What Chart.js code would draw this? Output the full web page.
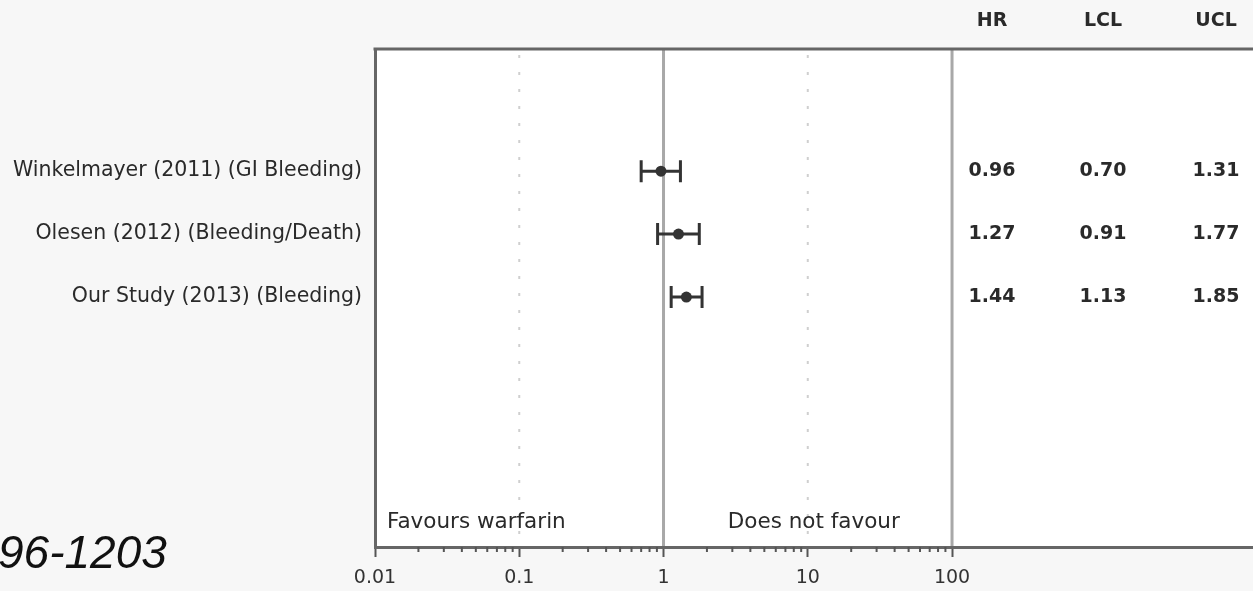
<!DOCTYPE html>
<html>
<head>
<meta charset="utf-8">
<script src="https://cdn.jsdelivr.net/npm/chart.js@4.4.1/dist/chart.umd.min.js"></script>
<style>
  html, body { margin: 0; padding: 0; background: #f7f7f7; }
  #wrap { width: 1253px; height: 591px; }
</style>
</head>
<body>
<div id="wrap"><canvas id="chart" width="1253" height="591"></canvas></div>
<script>
// forest plot data
const studies = ["Winkelmayer (2011) (GI Bleeding)", "Olesen (2012) (Bleeding/Death)", "Our Study (2013) (Bleeding)"]
const hr = [0.96, 1.27, 1.44]
const lcl = [0.70, 0.91, 1.13]
const ucl = [1.31, 1.77, 1.85]
const columns = ["HR", "LCL", "UCL"]
const xTicks = [0.01, 0.1, 1, 10, 100]
const xTickLabels = ["0.01", "0.1", "1", "10", "100"]
const solidRefs = [1, 100]
const dottedRefs = [0.1, 10]

const FONT = "'DejaVu Sans', sans-serif"
const INK = "#2a2a2a"

const forest = {
  id: "forest",
  beforeDraw(chart) {
    const { ctx, chartArea: a, scales: { x } } = chart
    ctx.save()
    ctx.fillStyle = "#f7f7f7"
    ctx.fillRect(0, 0, chart.width, chart.height)
    ctx.fillStyle = "#ffffff"
    ctx.fillRect(a.left, a.top, chart.width - a.left, a.bottom - a.top)

    // reference lines
    ctx.strokeStyle = "#a8a8a8"
    ctx.lineWidth = 3
    solidRefs.forEach(v => {
      const px = x.getPixelForValue(v)
      ctx.beginPath(); ctx.moveTo(px, a.top); ctx.lineTo(px, a.bottom); ctx.stroke()
    })
    ctx.strokeStyle = "#cfcfcf"
    ctx.lineWidth = 2
    ctx.setLineDash([3, 14])
    dottedRefs.forEach(v => {
      const px = x.getPixelForValue(v)
      ctx.beginPath(); ctx.moveTo(px, a.top + 6); ctx.lineTo(px, a.bottom); ctx.stroke()
    })
    ctx.restore()
  },
  beforeDatasetsDraw(chart) {
    const { ctx, scales: { x, y } } = chart
    ctx.save()
    ctx.strokeStyle = "#333"
    ctx.lineWidth = 3
    studies.forEach((_, i) => {
      const py = y.getPixelForValue(i + 1)
      const x1 = x.getPixelForValue(lcl[i])
      const x2 = x.getPixelForValue(ucl[i])
      ctx.beginPath()
      ctx.moveTo(x1, py); ctx.lineTo(x2, py)
      ctx.moveTo(x1, py - 11); ctx.lineTo(x1, py + 11)
      ctx.moveTo(x2, py - 11); ctx.lineTo(x2, py + 11)
      ctx.stroke()
    })
    ctx.restore()
  },
  afterDraw(chart) {
    const { ctx, chartArea: a, scales: { x, y } } = chart
    ctx.save()

    // top frame line
    ctx.strokeStyle = "#666"
    ctx.lineWidth = 3
    ctx.beginPath(); ctx.moveTo(a.left - 1.5, a.top); ctx.lineTo(chart.width, a.top); ctx.stroke()

    // minor log ticks
    ctx.strokeStyle = "#555"
    ctx.lineWidth = 2
    xTicks.slice(0, -1).forEach(d => {
      for (let k = 2; k < 10; k++) {
        const px = x.getPixelForValue(d * k)
        ctx.beginPath(); ctx.moveTo(px, a.bottom); ctx.lineTo(px, a.bottom + 5); ctx.stroke()
      }
    })

    // HR / LCL / UCL table
    const colX = [992, 1103, 1216]
    ctx.fillStyle = INK
    ctx.textAlign = "center"
    ctx.textBaseline = "middle"
    ctx.font = `bold 19px ${FONT}`
    columns.forEach((c, j) => ctx.fillText(c, colX[j], 21))
    studies.forEach((_, i) => {
      const py = y.getPixelForValue(i + 1)
      ;[hr[i], lcl[i], ucl[i]].forEach((v, j) => ctx.fillText(v.toFixed(2), colX[j], py))
    })

    // direction labels
    ctx.font = `21.5px ${FONT}`
    ctx.textAlign = "left"
    ctx.fillText("Favours warfarin", a.left + 12, 522)
    ctx.textAlign = "center"
    ctx.fillText("Does not favour", x.getPixelForValue(10) + 6, 522)

    // cut-off page reference at lower left
    ctx.fillStyle = "#111"
    ctx.textAlign = "left"
    ctx.textBaseline = "alphabetic"
    ctx.font = "italic 46px 'Liberation Sans', Arial, sans-serif"
    ctx.fillText("96-1203", -2, 568)
    ctx.restore()
  }
}

new Chart(document.getElementById("chart"), {
  type: "scatter",
  data: {
    datasets: [{
      data: hr.map((v, i) => ({ x: v, y: i + 1 })),
      backgroundColor: "#333",
      borderWidth: 0,
      pointRadius: 5.5
    }]
  },
  options: {
    responsive: false,
    animation: false,
    layout: { autoPadding: false, padding: { top: 49, right: 0, bottom: 0, left: 0 } },
    plugins: { legend: { display: false }, tooltip: { enabled: false } },
    scales: {
      x: {
        type: "logarithmic",
        bounds: "data",
        min: 0.01,
        max: 12200,
        afterBuildTicks: s => { s.ticks = xTicks.map(v => ({ value: v, major: true })) },
        afterFit: s => { s.height = 44 },
        grid: { drawOnChartArea: false, drawTicks: true, tickLength: 10, tickWidth: 2, tickColor: "#555" },
        border: { display: true, color: "#666", width: 3 },
        ticks: {
          autoSkip: false,
          maxRotation: 0,
          padding: 10,
          color: "#333",
          font: { family: FONT, size: 19 },
          callback: (v, i) => xTickLabels[i]
        }
      },
      y: {
        type: "linear",
        reverse: true,
        min: -0.94,
        max: 6.97,
        afterBuildTicks: s => { s.ticks = studies.map((_, i) => ({ value: i + 1 })) },
        afterFit: s => { s.width = 375 },
        grid: { display: false },
        border: { display: true, color: "#666", width: 3 },
        ticks: {
          autoSkip: false,
          padding: 5,
          color: INK,
          font: { family: FONT, size: 20.5 },
          callback: v => studies[v - 1]
        }
      }
    }
  },
  plugins: [forest]
})
</script>
</body>
</html>
